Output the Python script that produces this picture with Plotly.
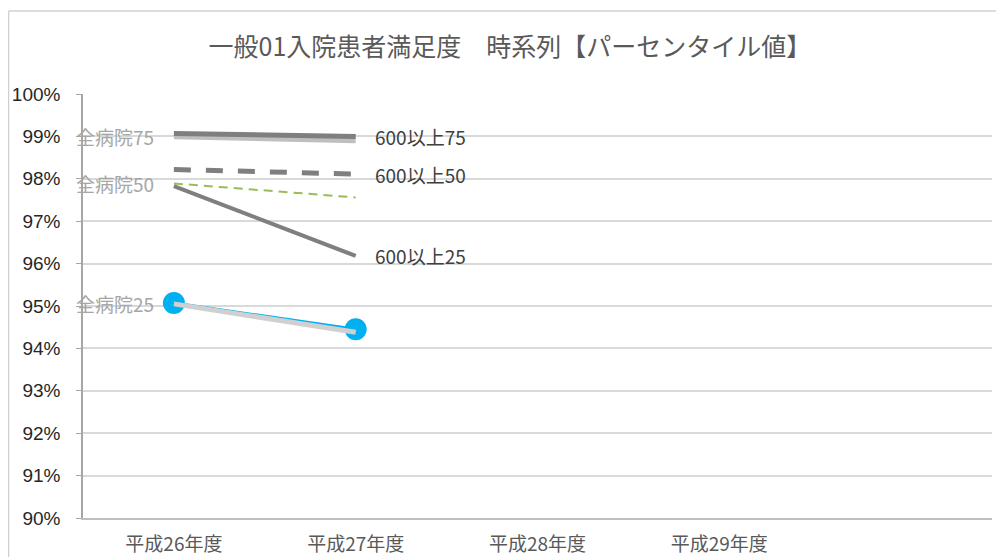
import plotly.graph_objects as go

categories = ["平成26年度", "平成27年度", "平成28年度", "平成29年度", " "]
years = categories[:2]

all75 = [98.99, 98.90]
over600_75 = [99.07, 99.00]
over600_50 = [98.22, 98.11]
all50 = [97.89, 97.56]
over600_25 = [97.83, 96.18]
all25 = [95.05, 94.38]
own = [95.07, 94.45]

# page places the figure at an 8px offset
OFF = 8
W, H = 1004 - OFF, 557 - OFF
L, R, T, B = 83 - OFF, 12, 94 - OFF, 39
PW, PH = W - L - R, H - T - B

def px(x):  # screen px -> paper
    return (x - OFF - L) / PW

def py(y):
    return (H - B - (y - OFF)) / PH

JP = "Noto Sans CJK JP"

fig = go.Figure()

fig.add_trace(go.Scatter(x=years, y=all75, mode="lines", name="全病院75",
                         line=dict(color="#BFBFBF", width=5)))
fig.add_trace(go.Scatter(x=years, y=over600_75, mode="lines", name="600以上75",
                         line=dict(color="#7F7F7F", width=5)))
fig.add_trace(go.Scatter(x=years, y=over600_50, mode="lines", name="600以上50",
                         line=dict(color="#7F7F7F", width=5, dash="17px,15px")))
fig.add_trace(go.Scatter(x=years, y=all50, mode="lines", name="全病院50",
                         line=dict(color="#9BBB59", width=2, dash="9px,6px")))
fig.add_trace(go.Scatter(x=years, y=over600_25, mode="lines", name="600以上25",
                         line=dict(color="#7F7F7F", width=4)))
fig.add_trace(go.Scatter(x=years, y=own, mode="lines+markers", name="自院",
                         line=dict(color="#00B0F0", width=3),
                         marker=dict(color="#00B0F0", size=22)))
fig.add_trace(go.Scatter(x=years, y=all25, mode="lines", name="全病院25",
                         line=dict(color="#D0D0D0", width=5)))

annotations = []
for txt, vals in [("全病院75", all75), ("全病院50", all50), ("全病院25", all25)]:
    annotations.append(dict(x=years[0], y=vals[0], text=txt, showarrow=False,
                            xanchor="right", yanchor="middle", xshift=-18,
                            font=dict(family=JP, size=19, color="#A6A6A6")))
for txt, vals in [("600以上75", over600_75), ("600以上50", over600_50), ("600以上25", over600_25)]:
    annotations.append(dict(x=years[1], y=vals[1], text=txt, showarrow=False,
                            xanchor="left", yanchor="middle", xshift=17,
                            font=dict(family=JP, size=19, color="#404040")))

shapes = [
    dict(type="line", xref="paper", yref="paper", x0=px(8.5), x1=px(1004), y0=py(11), y1=py(11),
         line=dict(color="#D0D0D0", width=1.5)),
    dict(type="line", xref="paper", yref="paper", x0=px(8.5), x1=px(8.5), y0=py(11), y1=py(557),
         line=dict(color="#D0D0D0", width=1.5)),
]

fig.update_layout(
    template="none",
    width=W, height=H,
    margin=dict(l=L, r=R, t=T, b=B, pad=0, autoexpand=False),
    paper_bgcolor="white", plot_bgcolor="white",
    showlegend=False,
    title=dict(text="一般01入院患者満足度　時系列【パーセンタイル値】",
               x=px(510), xref="paper", xanchor="center", y=1 - (47 - OFF) / H, yanchor="middle",
               font=dict(family=JP, size=25, color="#595959")),
    xaxis=dict(type="category", categoryorder="array", categoryarray=categories,
               range=[-0.5, 4.5], showgrid=False, showline=True, linecolor="#BFBFBF",
               linewidth=1.5, ticks="", zeroline=False, automargin=False,
               ticklabelstandoff=8,
               tickfont=dict(family=JP, size=19, color="#595959")),
    yaxis=dict(range=[90, 100], dtick=1, ticksuffix="%", showgrid=True,
               gridcolor="#D9D9D9", gridwidth=1.5, showline=True, linecolor="#A6A6A6",
               linewidth=1.5, ticks="outside", ticklen=5, tickcolor="#A6A6A6",
               zeroline=False, ticklabelstandoff=12, automargin=False,
               tickfont=dict(family="Liberation Sans", size=19, color="#262626")),
    annotations=annotations,
    shapes=shapes,
)

fig.write_html("out.html")
